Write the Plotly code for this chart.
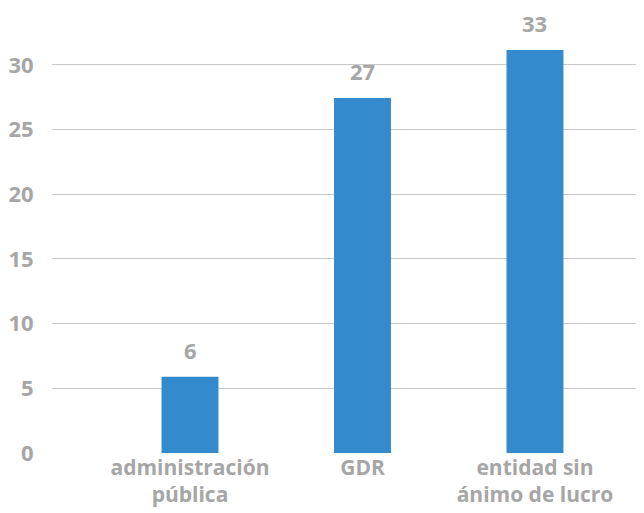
import plotly.graph_objects as go

categories = ["administración<br>pública", "GDR", "entidad sin<br>ánimo de lucro"]
values = [5.9, 27.45, 31.15]
value_labels = ["6", "27", "33"]
y_ticks = [0, 5, 10, 15, 20, 25, 30]

gray = "#a6a6a6"
font_family = "Open Sans"
x_pos = list(range(len(categories)))

fig = go.Figure(
    go.Bar(
        x=x_pos,
        y=values,
        marker=dict(color="#338acc", line=dict(width=0)),
        width=0.33,
        hoverinfo="skip",
    )
)

for xi, v, lab in zip(x_pos, values, value_labels):
    fig.add_annotation(
        x=xi, y=v, text=lab, showarrow=False,
        xanchor="center", yanchor="bottom", yshift=10,
        font=dict(family=font_family, size=22, color=gray, weight="bold"),
    )

# the page has an 8px body margin, so the figure is drawn 8px smaller and offset
fig.update_layout(
    width=636,
    height=505,
    margin=dict(l=44, r=0, t=0, b=60),
    paper_bgcolor="white",
    plot_bgcolor="white",
    showlegend=False,
    font=dict(family=font_family, color=gray),
    xaxis=dict(
        range=[-0.8, 2.632],
        tickvals=x_pos,
        ticktext=categories,
        tickfont=dict(family=font_family, size=21, color=gray, weight="bold"),
        showgrid=False,
        zeroline=False,
        showline=False,
        ticks="",
        automargin=False,
    ),
    yaxis=dict(
        range=[0, 34.4],
        tickvals=y_ticks,
        tickfont=dict(family=font_family, size=22, color=gray, weight="bold"),
        showgrid=True,
        gridcolor="#c8c8c8",
        gridwidth=1,
        zeroline=False,
        showline=False,
        ticks="outside",
        ticklen=13,
        tickcolor="rgba(0,0,0,0)",
        automargin=False,
    ),
)

fig.write_html("out.html")
